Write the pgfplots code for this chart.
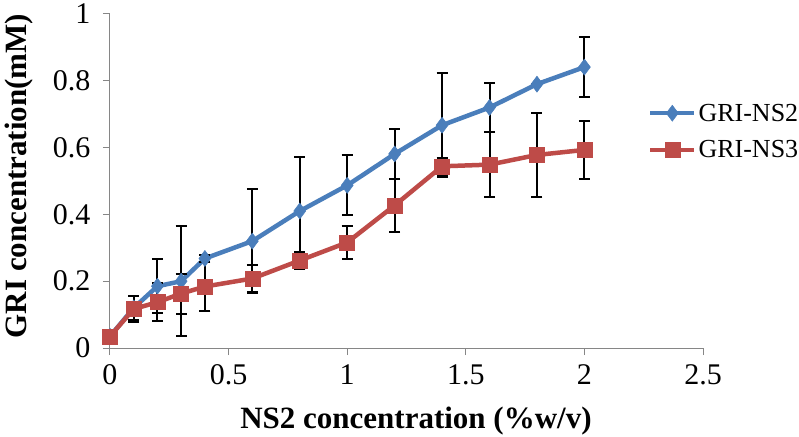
\documentclass[border=0pt]{standalone}
\usepackage{fontspec}
\setmainfont{Liberation Serif}
\usepackage{pgfplots}
\usepackage{pgfplotstable}
\pgfplotsset{compat=1.18}
\definecolor{nsblue}{HTML}{4A7EBB}
\definecolor{nsred}{HTML}{BE4B48}
\definecolor{axgray}{HTML}{868686}

% x, mean, error
\pgfplotstableread{
x    y      e
0    0.035  0.000
0.1  0.120  0.037
0.2  0.185  0.080
0.3  0.200  0.165
0.4  0.268  0.010
0.6  0.320  0.155
0.8  0.410  0.163
1.0  0.487  0.090
1.2  0.581  0.075
1.4  0.667  0.155
1.6  0.720  0.072
1.8  0.790  0.000
2.0  0.841  0.090
}\nstwo

\pgfplotstableread{
x    y      e
0    0.035  0.000
0.1  0.117  0.038
0.2  0.137  0.057
0.3  0.163  0.060
0.4  0.184  0.074
0.6  0.208  0.040
0.8  0.262  0.025
1.0  0.316  0.050
1.2  0.427  0.080
1.4  0.544  0.025
1.6  0.549  0.097
1.8  0.578  0.125
2.0  0.593  0.087
}\nsthree

\begin{document}
\begin{tikzpicture}
\begin{axis}[
    scale only axis,
    width=593pt, height=334pt,
    xmin=0, xmax=2.5, ymin=0, ymax=1,
    axis x line*=bottom, axis y line*=left,
    axis line style={axgray, line width=1pt},
    xtick={0,0.5,1,1.5,2,2.5},
    ytick={0,0.2,0.4,0.6,0.8,1},
    tick align=outside, major tick length=7pt,
    tick style={axgray, line width=1pt},
    ticklabel style={font=\fontsize{30}{32}\selectfont, black},
    /pgf/number format/assume math mode=true,
    yticklabel style={/pgf/number format/fixed, /pgf/number format/precision=1, xshift=-9pt},
    xticklabel style={yshift=-6pt},
    every axis x label/.style={at={(axis description cs:0.516,-0.242)}, anchor=base},
    every axis y label/.style={at={(axis description cs:-0.1535,0.515)}, rotate=90, anchor=center},
    label style={font=\bfseries\fontsize{31}{33}\selectfont},
    xlabel={NS2 concentration (\%w/v)},
    ylabel={GRI concentration(mM)},
    legend style={draw=none, fill=none, at={(axis description cs:0.907,0.648)}, anchor=west,
        font=\fontsize{26}{28}\selectfont, row sep=14pt, inner sep=0pt},
    legend cell align=left,
    legend image code/.code={\draw[mark repeat=2,mark phase=2,#1] plot coordinates {(0pt,0pt) (22pt,0pt) (44pt,0pt)};},
    error bars/error bar style={black, line width=2pt},
    error bars/error mark options={rotate=90, black, mark size=5.5pt, line width=2pt},
]
\addplot[nsblue, line width=4.5pt, mark=diamond*, mark size=8pt,
    mark options={fill=nsblue, draw=nsblue, line width=0.5pt},
    error bars/.cd, y dir=both, y explicit]
    table[x=x, y=y, y error=e] {\nstwo};
\addlegendentry{GRI-NS2}
\addplot[nsred, line width=4.5pt, mark=square*, mark size=7.5pt,
    mark options={fill=nsred, draw=nsred, line width=0.5pt},
    error bars/.cd, y dir=both, y explicit]
    table[x=x, y=y, y error=e] {\nsthree};
\addlegendentry{GRI-NS3}
\end{axis}
\pgfresetboundingbox
\path[use as bounding box] (-110pt,-88pt) rectangle (689pt,348pt);
\end{tikzpicture}
\end{document}
